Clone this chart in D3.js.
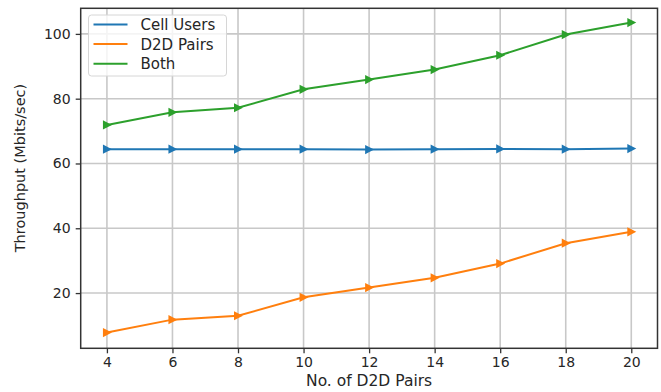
<!DOCTYPE html>
<html>
<head>
<meta charset="utf-8">
<script src="https://cdn.jsdelivr.net/npm/d3@7"></script>
<style>
  html, body { margin: 0; padding: 0; background: #fff; }
  svg { display: block; }
  text { font-family: "DejaVu Sans", sans-serif; fill: #262626; }
</style>
</head>
<body>
<svg id="chart" width="661" height="392"></svg>
<script>
// Throughput vs number of D2D pairs
const pairs = [4, 6, 8, 10, 12, 14, 16, 18, 20];
const cellUsers = [64.4, 64.4, 64.4, 64.4, 64.3, 64.4, 64.5, 64.4, 64.6];
const d2dPairs = [7.8, 11.8, 13.0, 18.7, 21.7, 24.7, 29.1, 35.4, 38.9];
const both = [71.9, 75.8, 77.2, 82.9, 85.9, 89.0, 93.4, 99.8, 103.5];
const xTicks = [4, 6, 8, 10, 12, 14, 16, 18, 20];
const yTicks = [20, 40, 60, 80, 100];
const seriesNames = ["Cell Users", "D2D Pairs", "Both"];
const seriesColors = ["#1f77b4", "#ff7f0e", "#2ca02c"];

const series = [cellUsers, d2dPairs, both].map((vals, i) => ({
  name: seriesNames[i],
  color: seriesColors[i],
  points: pairs.map((p, j) => ({ x: p, y: vals[j] }))
}));

const plotL = 80.7, plotR = 657.5, plotT = 8.3, plotB = 348.3;
const svg = d3.select("#chart");

const x = d3.scaleLinear().domain([3.2, 20.8]).range([plotL, plotR]);
const y = d3.scaleLinear().domain([2.95, 107.9]).range([plotB, plotT]);

// grid
const grid = svg.append("g");
grid.selectAll("line.vx").data(xTicks).join("line")
  .attr("x1", d => x(d)).attr("x2", d => x(d))
  .attr("y1", plotT).attr("y2", plotB)
  .attr("stroke", "#c8c8c8").attr("stroke-width", 1.6);
grid.selectAll("line.hy").data(yTicks).join("line")
  .attr("x1", plotL).attr("x2", plotR)
  .attr("y1", d => y(d)).attr("y2", d => y(d))
  .attr("stroke", "#c8c8c8").attr("stroke-width", 1.6);

// axes
const xAxis = d3.axisBottom(x).tickValues(xTicks).tickSize(5).tickPadding(4).tickSizeOuter(0);
const yAxis = d3.axisLeft(y).tickValues(yTicks).tickSize(5).tickPadding(5).tickSizeOuter(0);

const gx = svg.append("g").attr("transform", `translate(0,${plotB})`).call(xAxis);
const gy = svg.append("g").attr("transform", `translate(${plotL},0)`).call(yAxis);
[gx, gy].forEach(g => {
  g.select(".domain").remove();
  g.selectAll(".tick line").attr("stroke", "#333").attr("stroke-width", 1.3);
  g.selectAll(".tick text").attr("font-size", 14).attr("fill", "#262626")
    .style("font-family", "DejaVu Sans, sans-serif");
});

// frame
svg.append("rect")
  .attr("x", plotL).attr("y", plotT)
  .attr("width", plotR - plotL).attr("height", plotB - plotT)
  .attr("fill", "none").attr("stroke", "#333").attr("stroke-width", 1.5);

// lines and markers
const line = d3.line().x(d => x(d.x)).y(d => y(d.y));
const tri = "M-4,-4.6L5,0L-4,4.6Z";
series.forEach(s => {
  svg.append("path").datum(s.points)
    .attr("d", line).attr("fill", "none")
    .attr("stroke", s.color).attr("stroke-width", 2);
  svg.append("g").selectAll("path").data(s.points).join("path")
    .attr("d", tri)
    .attr("transform", d => `translate(${x(d.x)},${y(d.y)})`)
    .attr("fill", s.color);
});

// legend
const lg = svg.append("g").attr("transform", "translate(88.5,15)");
lg.append("rect").attr("width", 138).attr("height", 61).attr("rx", 3)
  .attr("fill", "rgba(255,255,255,0.8)").attr("stroke", "#d6d6d6").attr("stroke-width", 1);
series.forEach((s, i) => {
  const cy = 9.5 + i * 19.6;
  lg.append("line").attr("x1", 5).attr("x2", 39).attr("y1", cy).attr("y2", cy)
    .attr("stroke", s.color).attr("stroke-width", 2);
  lg.append("text").attr("x", 52).attr("y", cy).attr("dy", "0.36em")
    .attr("font-size", 15).text(s.name);
});

// axis labels
svg.append("text").attr("x", (plotL + plotR) / 2).attr("y", 386)
  .attr("text-anchor", "middle").attr("font-size", 15.5).text("No. of D2D Pairs");
svg.append("text")
  .attr("transform", `translate(25,${168}) rotate(-90)`)
  .attr("text-anchor", "middle").attr("font-size", 14.5).text("Throughput (Mbits/sec)");
</script>
</body>
</html>
